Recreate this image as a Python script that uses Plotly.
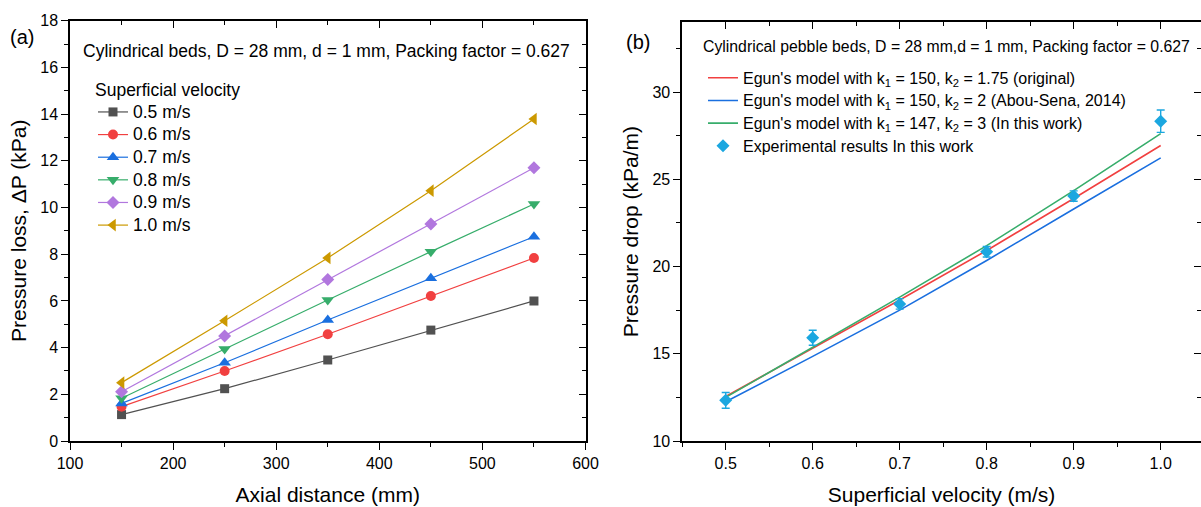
import plotly.graph_objects as go

# ---------------- data ----------------
axial_distance = [150, 250, 350, 450, 550]
velocity_labels = ["0.5 m/s", "0.6 m/s", "0.7 m/s", "0.8 m/s", "0.9 m/s", "1.0 m/s"]
dp_05 = [1.13, 2.24, 3.47, 4.75, 6.00]
dp_06 = [1.47, 3.00, 4.57, 6.21, 7.84]
dp_07 = [1.61, 3.35, 5.18, 6.97, 8.75]
dp_08 = [1.83, 3.94, 6.04, 8.11, 10.15]
dp_09 = [2.11, 4.50, 6.92, 9.29, 11.70]
dp_10 = [2.50, 5.15, 7.84, 10.72, 13.79]

velocity = [0.5, 0.6, 0.7, 0.8, 0.9, 1.0]
ergun_original = [12.55, 15.30, 18.08, 20.92, 23.90, 26.94]
ergun_abou_sena = [12.25, 14.85, 17.50, 20.35, 23.30, 26.23]
ergun_this_work = [12.50, 15.35, 18.25, 21.20, 24.35, 27.62]
experimental = [12.33, 15.92, 17.86, 20.85, 24.04, 28.33]
experimental_err = [0.45, 0.43, 0.30, 0.30, 0.30, 0.64]

model_labels = [
    "Egun's model with k<sub>1</sub> = 150, k<sub>2</sub> = 1.75 (original)",
    "Egun's model with k<sub>1</sub> = 150, k<sub>2</sub> = 2 (Abou-Sena, 2014)",
    "Egun's model with k<sub>1</sub> = 147, k<sub>2</sub> = 3 (In this work)",
]
exp_label = "Experimental results In this work"
legend_title = "Superficial velocity"

# ---------------- styles ----------------
FONT = "Arial, Liberation Sans, sans-serif"
left_colors = ["#515151", "#F14040", "#1A6FDF", "#37AD6B", "#B177DE", "#CC9900"]
left_symbols = ["square", "circle", "triangle-up", "triangle-down", "diamond", "triangle-left"]
left_sizes = [9, 10, 11, 11, 10, 11]
model_colors = ["#F14040", "#1A6FDF", "#37AD6B"]
exp_color = "#1BA7E0"

W, H = 1201, 507

def px_x(p):
    return p / W

def px_y(p):
    return 1 - p / H

def sized(text, size):
    return '<span style="font-size:%gpx">%s</span>' % (size, text)

fig = go.Figure()

left_series = [dp_05, dp_06, dp_07, dp_08, dp_09, dp_10]
for vals, name, col, sym, sz in zip(left_series, velocity_labels, left_colors, left_symbols, left_sizes):
    fig.add_trace(go.Scatter(
        x=axial_distance, y=vals, name=sized(name, 17.5), mode="lines+markers",
        line=dict(color=col, width=1.2),
        marker=dict(symbol=sym, size=sz, color=col),
        xaxis="x", yaxis="y", legend="legend",
    ))

# invisible trace carrying the mirrored (inside-tick) axes of panel a
fig.add_trace(go.Scatter(x=axial_distance, y=dp_05, xaxis="x3", yaxis="y3",
                         mode="markers", marker=dict(opacity=0), showlegend=False,
                         hoverinfo="skip"))

for vals, name, col in zip([ergun_original, ergun_abou_sena, ergun_this_work], model_labels, model_colors):
    fig.add_trace(go.Scatter(
        x=velocity, y=vals, name=sized(name, 16), mode="lines",
        line=dict(color=col, width=1.6),
        xaxis="x2", yaxis="y2", legend="legend2",
    ))

fig.add_trace(go.Scatter(
    x=velocity, y=experimental, name=sized(exp_label, 16), mode="markers",
    marker=dict(symbol="diamond", size=10, color=exp_color),
    error_y=dict(type="data", array=experimental_err, color=exp_color, thickness=1.4, width=4),
    xaxis="x2", yaxis="y2", legend="legend2",
))

fig.add_trace(go.Scatter(x=velocity, y=experimental, xaxis="x4", yaxis="y4",
                         mode="markers", marker=dict(opacity=0), showlegend=False,
                         hoverinfo="skip"))

tickfont = dict(family=FONT, size=16, color="black")
titlefont = dict(family=FONT, size=21, color="black")

def main_axis(**kw):
    d = dict(showgrid=False, zeroline=False, showline=True, linecolor="black", linewidth=1.5,
             ticks="outside", ticklen=7, tickwidth=1.3, tickcolor="black", tickfont=tickfont,
             automargin=False)
    d.update(kw)
    return d

def mirror_axis(**kw):
    d = dict(showgrid=False, zeroline=False, showline=False, ticks="inside", ticklen=7,
             tickwidth=1.3, tickcolor="black", showticklabels=False, automargin=False)
    d.update(kw)
    return d

xl_dom = [px_x(70), px_x(585.5)]
yl_dom = [px_y(441), px_y(20.7)]
xr_dom = [px_x(682.2), 1.0]
yr_dom = [px_y(441), px_y(22.3)]

xr_range = [0.45, 0.45 + (1201 - 682.2) / 870.0]

def note(text, x, y, size):
    return dict(text=text, x=px_x(x), y=px_y(y), xref="paper", yref="paper", showarrow=False,
                xanchor="center", yanchor="middle", font=dict(family=FONT, size=size, color="black"))

fig.update_layout(
    width=W, height=H, margin=dict(l=0, r=0, t=0, b=0, autoexpand=False),
    paper_bgcolor="white", plot_bgcolor="white",
    font=dict(family=FONT, color="black"),
    xaxis=main_axis(domain=xl_dom, anchor="y", range=[100, 600], dtick=100, mirror=True,
                    minor=dict(dtick=50, ticks="outside", ticklen=4, tickwidth=1.3, tickcolor="black"),
                    title=dict(text="Axial distance (mm)", font=titlefont, standoff=16)),
    yaxis=main_axis(domain=yl_dom, anchor="x", range=[0, 18], dtick=2, mirror=True,
                    minor=dict(dtick=1, ticks="outside", ticklen=4, tickwidth=1.3, tickcolor="black"),
                    title=dict(text="Pressure loss, ΔP (kPa)", font=titlefont, standoff=8)),
    xaxis3=mirror_axis(overlaying="x", side="top", anchor="y", range=[100, 600], dtick=100,
                       minor=dict(dtick=50, ticks="inside", ticklen=4, tickwidth=1.3, tickcolor="black")),
    yaxis3=mirror_axis(overlaying="y", side="right", anchor="x", range=[0, 18], dtick=2,
                       minor=dict(dtick=1, ticks="inside", ticklen=4, tickwidth=1.3, tickcolor="black")),
    xaxis2=main_axis(domain=xr_dom, anchor="y2", range=xr_range, dtick=0.1, tick0=0.5,
                     tickformat=".1f", mirror=True,
                     minor=dict(dtick=0.05, ticks="outside", ticklen=4, tickwidth=1.3, tickcolor="black"),
                     title=dict(text="Superficial velocity (m/s)", font=titlefont, standoff=16)),
    yaxis2=main_axis(domain=yr_dom, anchor="x2", range=[10, 34], dtick=5, mirror=False,
                     minor=dict(dtick=2.5, ticks="outside", ticklen=4, tickwidth=1.3, tickcolor="black"),
                     title=dict(text="Pressure drop (kPa/m)", font=titlefont, standoff=8)),
    xaxis4=mirror_axis(overlaying="x2", side="top", anchor="y2", range=xr_range, dtick=0.1, tick0=0.5,
                       minor=dict(dtick=0.05, ticks="inside", ticklen=4, tickwidth=1.3, tickcolor="black")),
    yaxis4=mirror_axis(overlaying="y2", side="right", anchor="x2", range=[10, 34], dtick=5,
                       minor=dict(dtick=2.5, ticks="inside", ticklen=4, tickwidth=1.3, tickcolor="black")),
    legend=dict(x=px_x(93), y=px_y(76), xanchor="left", yanchor="top",
                bgcolor="rgba(0,0,0,0)", borderwidth=0,
                font=dict(family=FONT, size=15.1, color="black"),
                title=dict(text=sized(legend_title, 17.5), font=dict(family=FONT, size=15.1, color="black")),
                tracegroupgap=0),
    legend2=dict(x=px_x(703), y=px_y(61.5), xanchor="left", yanchor="top",
                 bgcolor="rgba(0,0,0,0)", borderwidth=0,
                 font=dict(family=FONT, size=15.1, color="black"), tracegroupgap=0),
    showlegend=True,
    annotations=[
        note("(a)", 22, 37, 20),
        note("(b)", 638, 42, 20),
        note("Cylindrical beds, D = 28 mm, d = 1 mm, Packing factor = 0.627", 326.5, 51, 17.5),
        note("Cylindrical pebble beds, D = 28 mm,d = 1 mm, Packing factor = 0.627", 946.5, 46.7, 15.8),
    ],
)

fig.write_html("out.html")
